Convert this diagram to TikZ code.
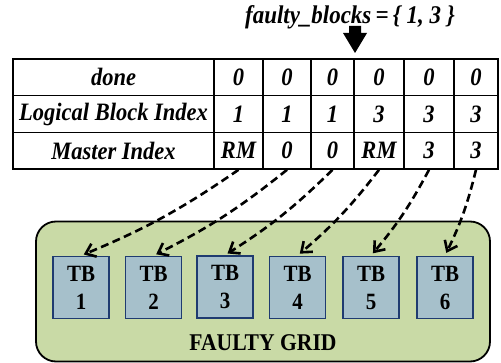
\documentclass[tikz,border=0pt]{standalone}
\usepackage{fontspec}
\setmainfont[FakeStretch=0.9]{Liberation Serif}
\usetikzlibrary{arrows.meta}
\definecolor{gridgreen}{HTML}{C9DAA6}
\definecolor{tbfill}{HTML}{A6C0CB}
\definecolor{tbedge}{HTML}{1F3B70}
\begin{document}
\begin{tikzpicture}[x=1pt,y=-1pt,
  cell/.style={draw, line width=1.6pt, fill=white, inner sep=0pt, minimum height=36.67pt,
    font=\fontsize{25}{25}\selectfont\bfseries\itshape},
  tbbox/.style={draw=tbedge, fill=tbfill, line width=1.8pt, minimum width=56pt, minimum height=62pt,
    inner sep=0pt, align=center, font=\fontsize{23.3}{28}\selectfont\bfseries},
  maparrow/.style={line width=2.6pt, dash pattern=on 8pt off 4.5pt, bend left=6,
    -{Straight Barb[length=9pt,width=14pt]}, shorten >=3pt}
]
\useasboundingbox (0,0) rectangle (501,363);
% title and block arrow
\node[font=\fontsize{25.5}{25.5}\selectfont\bfseries\itshape] (title) at (350,17) {faulty\_blocks\,=\,\{ 1, 3 \}};
\fill (349,26) -- (361,26) -- (361,33) -- (367,33) -- (355,53) -- (343,33) -- (349,33) -- cycle;
% table row 1
\node[cell, minimum width=201pt] (d0) at (113.5,77.33) {done};
\node[cell, minimum width=49pt] (d1) at (238.5,77.33) {0};
\node[cell, minimum width=48pt] (d2) at (287,77.33) {0};
\node[cell, minimum width=43pt] (d3) at (332.5,77.33) {0};
\node[cell, minimum width=50pt] (d4) at (379,77.33) {0};
\node[cell, minimum width=50pt] (d5) at (429,77.33) {0};
\node[cell, minimum width=44pt] (d6) at (476,77.33) {0};
% row 2
\node[cell, minimum width=201pt] (l0) at (113.5,114) {Logical Block Index};
\node[cell, minimum width=49pt] (l1) at (238.5,114) {1};
\node[cell, minimum width=48pt] (l2) at (287,114) {1};
\node[cell, minimum width=43pt] (l3) at (332.5,114) {1};
\node[cell, minimum width=50pt] (l4) at (379,114) {3};
\node[cell, minimum width=50pt] (l5) at (429,114) {3};
\node[cell, minimum width=44pt] (l6) at (476,114) {3};
% row 3
\node[cell, minimum width=201pt] (m0) at (113.5,150.67) {Master Index};
\node[cell, minimum width=49pt] (m1) at (238.5,150.67) {RM};
\node[cell, minimum width=48pt] (m2) at (287,150.67) {0};
\node[cell, minimum width=43pt] (m3) at (332.5,150.67) {0};
\node[cell, minimum width=50pt] (m4) at (379,150.67) {RM};
\node[cell, minimum width=50pt] (m5) at (429,150.67) {3};
\node[cell, minimum width=44pt] (m6) at (476,150.67) {3};
% faulty grid
\node[draw, line width=1.8pt, fill=gridgreen, rounded corners=20pt, minimum width=454pt, minimum height=140pt, inner sep=0pt] (grid) at (263,291.5) {};
\node[font=\fontsize{24}{24}\selectfont\bfseries] (gridlabel) at (263,343) {FAULTY GRID};
\node[tbbox] (tb1) at (81,287.5) {TB\\1};
\node[tbbox] (tb2) at (153.5,287.5) {TB\\2};
\node[tbbox] (tb3) at (225,287) {TB\\3};
\node[tbbox] (tb4) at (297.5,287.5) {TB\\4};
\node[tbbox] (tb5) at (371,287.5) {TB\\5};
\node[tbbox] (tb6) at (445,287.5) {TB\\6};
% mapping arrows
\draw[maparrow] (m1.south) to (tb1.north);
\draw[maparrow] (m2.south) to (tb2.north);
\draw[maparrow] (m3.south) to (tb3.north);
\draw[maparrow] (m4.south) to (tb4.north);
\draw[maparrow] (m5.south) to (tb5.north);
\draw[maparrow] (m6.south) to (tb6.north);
\end{tikzpicture}
\end{document}
